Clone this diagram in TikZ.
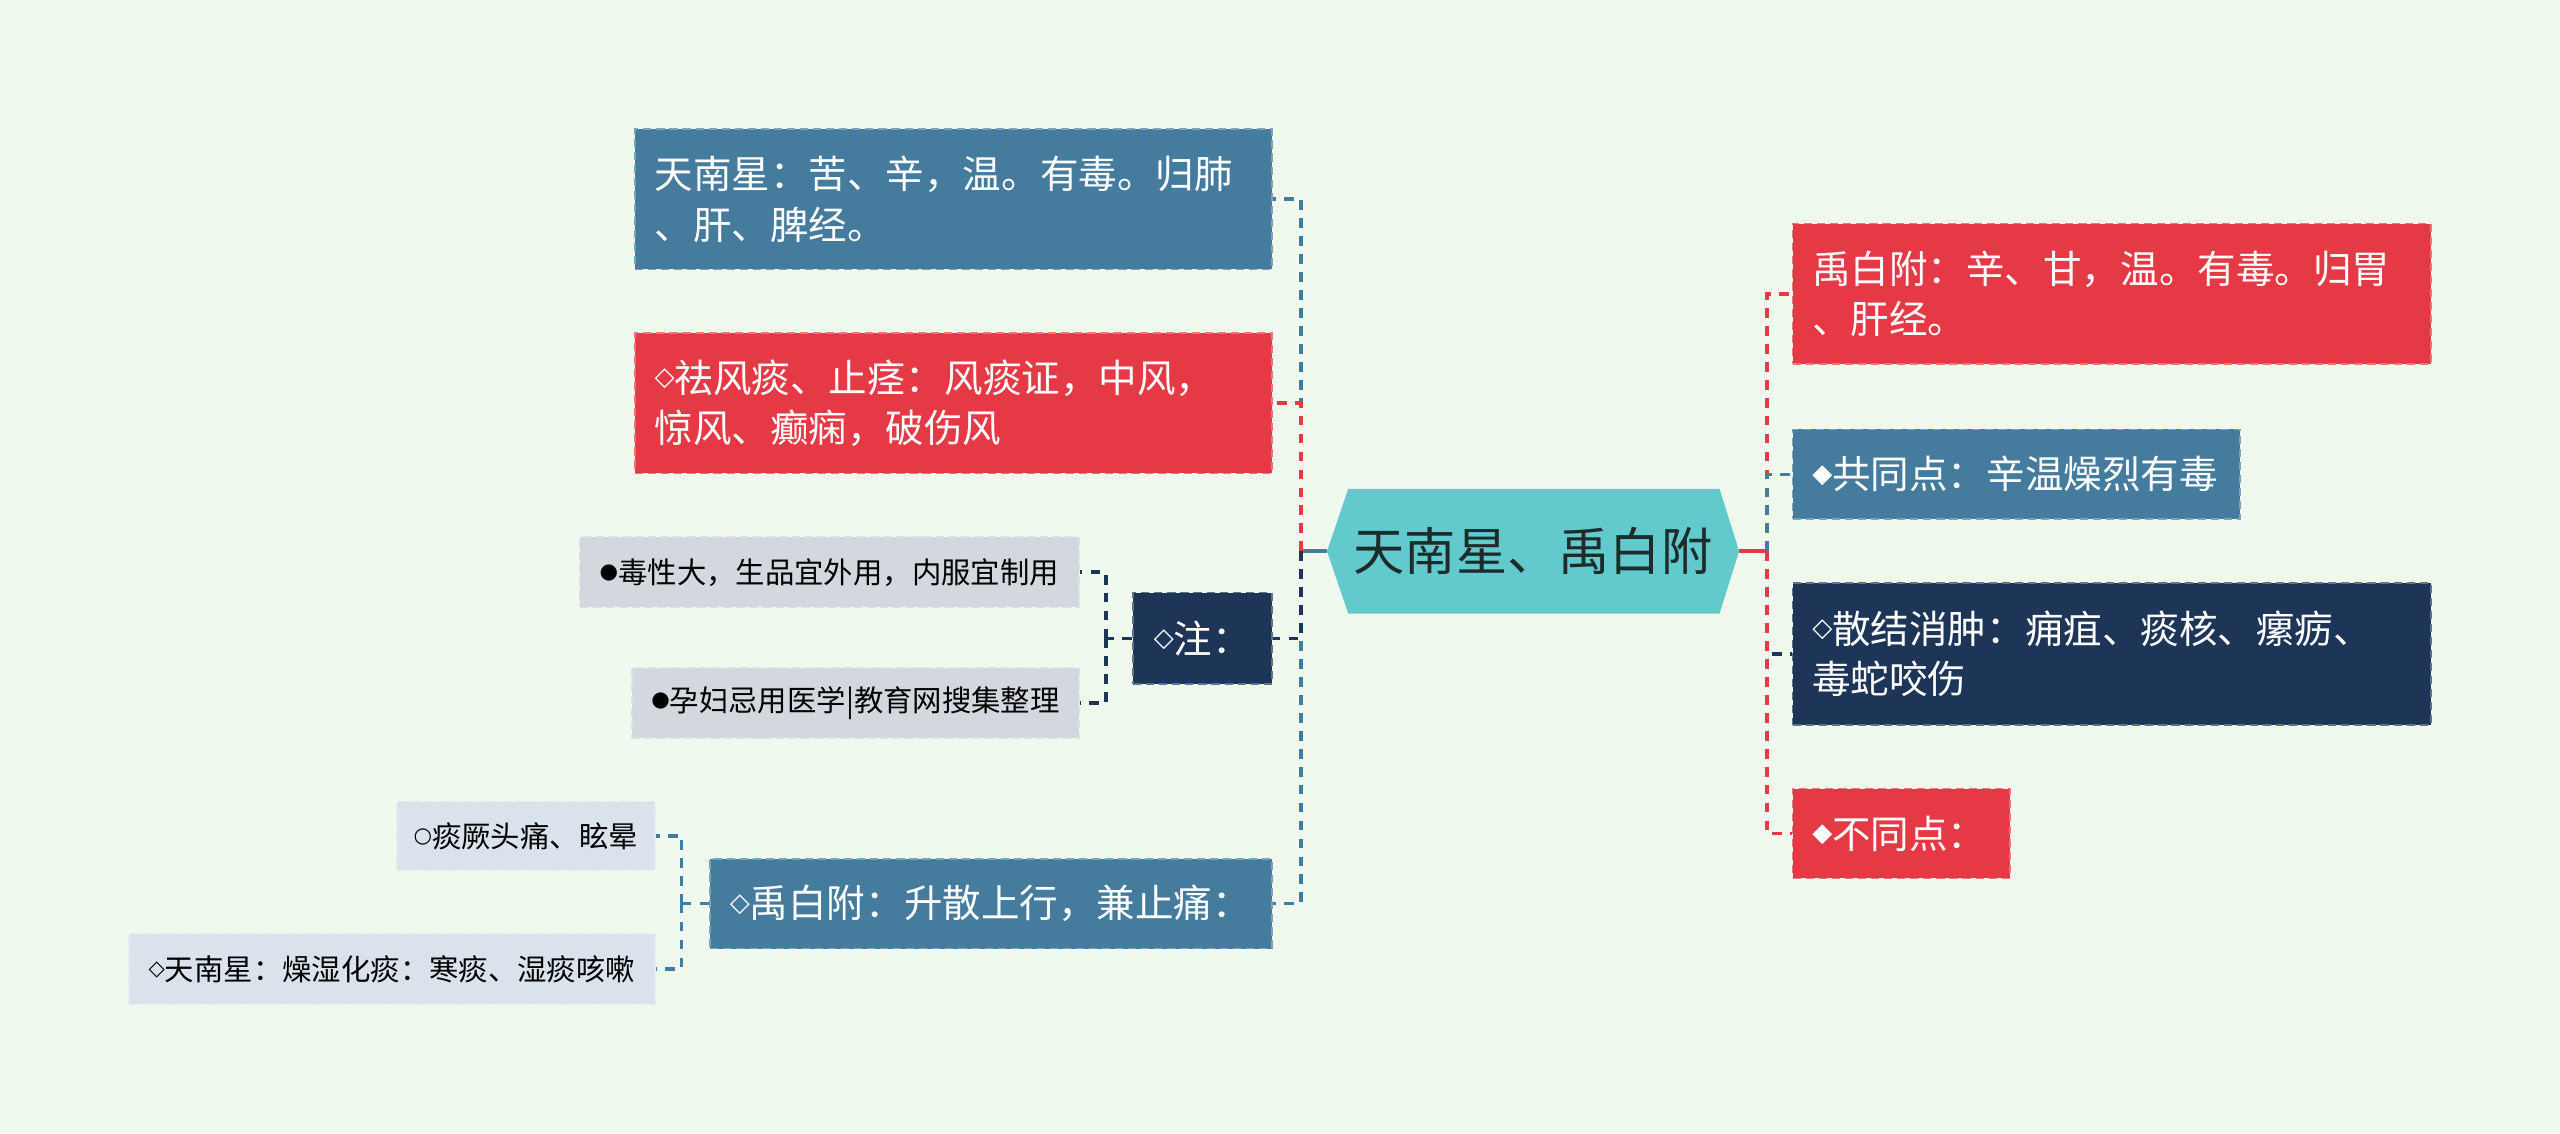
\documentclass[tikz,border=0pt]{standalone}
\usepackage{fontspec}
\setmainfont{Noto Sans CJK SC}
\newfontfamily\symf{DejaVu Sans}
\newcommand\bsym[1]{\raisebox{4pt}{\symf\fontsize{16}{16}\selectfont #1}}
\newcommand\ssym[1]{\raisebox{3pt}{\symf\fontsize{13}{13}\selectfont #1}}
\usetikzlibrary{calc}
\definecolor{bg}{HTML}{F0F9EE}
\definecolor{cblue}{HTML}{457B9D}
\definecolor{cred}{HTML}{E63946}
\definecolor{cnavy}{HTML}{1D3557}
\definecolor{cteal}{HTML}{62C9CC}
\definecolor{cgray}{HTML}{D3D7DE}
\definecolor{clight}{HTML}{DAE3EC}
\definecolor{ctxt}{HTML}{1E2B2B}
\tikzset{
  box/.style={rectangle, inner xsep=12pt, inner ysep=0pt, text=white, align=left,
    font=\fontsize{23.6}{31}\selectfont, line width=1pt, dash pattern=on 5pt off 3pt},
  blueb/.style={box, fill=cblue, draw=cblue!70!white},
  redb/.style={box, fill=cred, draw=cred!70!white},
  navyb/.style={box, fill=cnavy, draw=cnavy!70!white},
  subg/.style={rectangle, inner xsep=6pt, inner ysep=0pt, text=black, align=center,
    font=\fontsize{18}{24}\selectfont, fill=cgray, draw=cgray!80!white, line width=1pt, dash pattern=on 5pt off 3pt},
  subl/.style={subg, fill=clight, draw=clight!80!white},
  conn/.style={line width=2.2pt, dash pattern=on 6pt off 5pt},
  trunk/.style={line width=2.8pt},
}
\begin{document}
\begin{tikzpicture}[x=1pt,y=-1pt]
\fill[bg] (0,0) rectangle (1568,694);
\useasboundingbox (0,0) rectangle (1568,694);

% centre
\node[minimum width=252pt, minimum height=76pt, inner sep=0pt] (c) at (939,337.6) {};
\fill[cteal] (c.west) -- ($(c.north west)+(13,0)$) -- ($(c.north east)+(-12,0)$) -- (c.east)
  -- ($(c.south east)+(-12,0)$) -- ($(c.south west)+(13,0)$) -- cycle;
\node[text=ctxt, font=\fontsize{31.4}{36}\selectfont] (ct) at (c) {天南星、禹白附};

% left main boxes
\node[blueb, minimum width=390pt, minimum height=86pt, text width=366pt] (L1) at (584,122)
  {天南星：苦、辛，温。有毒。归肺\\、肝、脾经。};
\node[redb, minimum width=390pt, minimum height=86pt, text width=366pt] (L2) at (584,247)
  {\bsym{◇}祛风痰、止痉：风痰证，中风，\\惊风、癫痫，破伤风};
\node[navyb, minimum width=85pt, minimum height=56pt, align=center, inner xsep=2pt] (L3) at (736.5,391) {\bsym{◇}注：};
\node[blueb, minimum width=344pt, minimum height=55pt, text width=320pt] (L4) at (607,553.5)
  {\bsym{◇}禹白附：升散上行，兼止痛：};

% sub nodes of 注
\node[subg, minimum width=306pt, minimum height=43pt] (N1) at (508,350.5) {\ssym{●}毒性大，生品宜外用，内服宜制用};
\node[subg, minimum width=274pt, minimum height=43pt] (N2) at (524,430.5) {\ssym{●}孕妇忌用医学|教育网搜集整理};

% sub nodes of 禹白附
\node[subl, minimum width=158pt, minimum height=42pt] (M1) at (322,512) {\ssym{○}痰厥头痛、眩晕};
\node[subl, minimum width=322pt, minimum height=43pt] (M2) at (240,593.5) {\ssym{◇}天南星：燥湿化痰：寒痰、湿痰咳嗽};

% right boxes
\node[redb, minimum width=391pt, minimum height=86pt, text width=367pt] (R1) at (1293.5,180)
  {禹白附：辛、甘，温。有毒。归胃\\、肝经。};
\node[blueb, minimum width=274pt, minimum height=55pt, text width=250pt] (R2) at (1235,290.5)
  {\bsym{◆}共同点：辛温燥烈有毒};
\node[navyb, minimum width=391pt, minimum height=87pt, text width=367pt] (R3) at (1293.5,400.5)
  {\bsym{◇}散结消肿：痈疽、痰核、瘰疬、\\毒蛇咬伤};
\node[redb, minimum width=133pt, minimum height=55pt, text width=109pt] (R4) at (1164.5,510.5)
  {\bsym{◆}不同点：};

% connectors left
\draw[cblue, trunk] (c.west) -- ++(-16,0) coordinate (lt);
\draw[conn, cblue] (lt) |- (L1.east);
\draw[conn, cblue] (lt) |- (L4.east);
\draw[conn, cred] (lt) |- (L2.east);
\draw[conn, cnavy] (lt) |- (L3.east);

\draw[conn, cnavy] (L3.west) -- ++(-16,0) coordinate (nt);
\draw[conn, cnavy] (nt) |- (N1.east);
\draw[conn, cnavy] (nt) |- (N2.east);

\draw[conn, cblue] (L4.west) -- ++(-17,0) coordinate (mt);
\draw[conn, cblue] (mt) |- (M1.east);
\draw[conn, cblue] (mt) |- (M2.east);

% connectors right
\draw[cred, trunk] (c.east) -- ++(17,0) coordinate (rt);
\draw[conn, cnavy] (rt) |- (R3.west);
\draw[conn, cred] (rt) |- (R1.west);
\draw[conn, cblue] (rt) |- (R2.west);
\draw[conn, cred] (rt) |- (R4.west);
\end{tikzpicture}
\end{document}
